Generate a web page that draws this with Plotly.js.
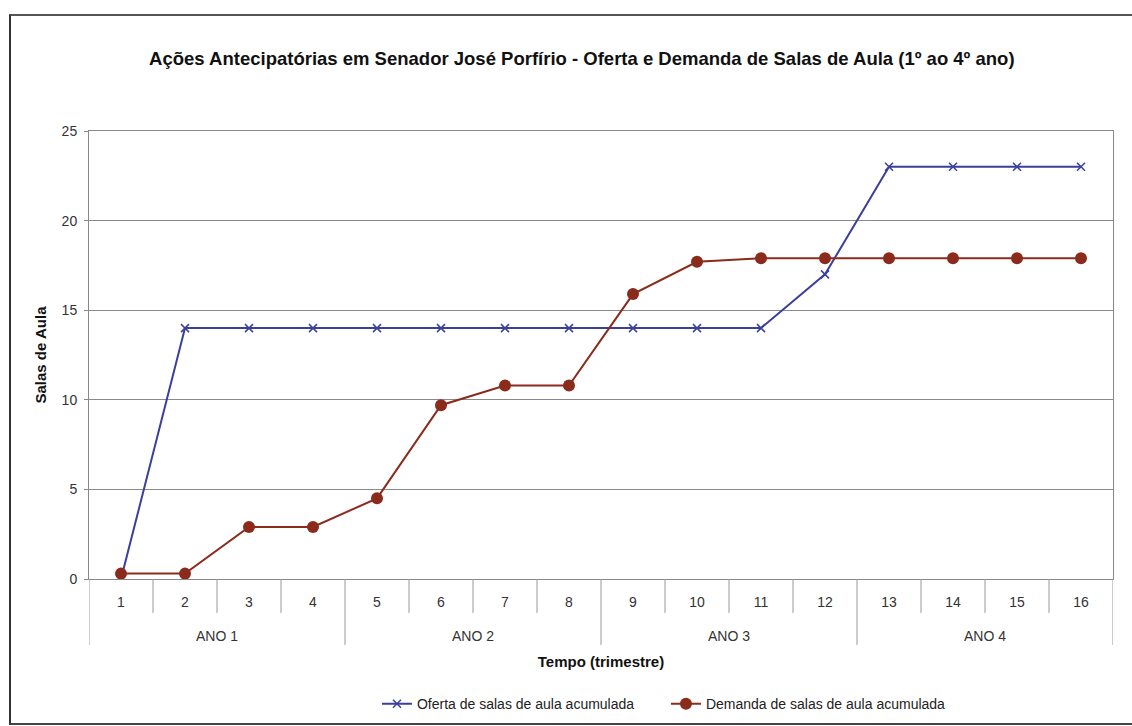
<!DOCTYPE html>
<html>
<head>
<meta charset="utf-8">
<script src="https://cdn.plot.ly/plotly-3.0.1.min.js"></script>
<style>
  html, body { margin: 0; padding: 0; background: #ffffff; }
  #frame { position: absolute; left: 9px; top: 14px; width: 1140px; height: 707px;
           border-left: 2px solid #333; border-top: 2px solid #555; border-bottom: 2px solid #444; }
  #chart { position: absolute; left: 0; top: 0; width: 1132px; height: 726px; }
</style>
</head>
<body>
<div id="frame"></div>
<div id="chart"></div>
<script>
const quarters = ['1','2','3','4','5','6','7','8','9','10','11','12','13','14','15','16'];
const years = ['ANO 1','ANO 1','ANO 1','ANO 1','ANO 2','ANO 2','ANO 2','ANO 2',
               'ANO 3','ANO 3','ANO 3','ANO 3','ANO 4','ANO 4','ANO 4','ANO 4'];
const oferta = [0, 14, 14, 14, 14, 14, 14, 14, 14, 14, 14, 17, 23, 23, 23, 23];
const demanda = [0.3, 0.3, 2.9, 2.9, 4.5, 9.7, 10.8, 10.8, 15.9, 17.7, 17.9, 17.9, 17.9, 17.9, 17.9, 17.9];
const seriesNames = ['Oferta de salas de aula acumulada', 'Demanda de salas de aula acumulada'];

const font = 'Arial, "Liberation Sans", sans-serif';
const blue = '#3a3f9c';
const red = '#8a2b1c';

const traces = [
  {
    x: quarters, y: oferta, name: seriesNames[0], type: 'scatter', mode: 'lines+markers',
    line: { color: blue, width: 2 },
    marker: { symbol: 'x-thin-open', size: 8, line: { color: blue, width: 1.5 } }
  },
  {
    x: quarters, y: demanda, name: seriesNames[1], type: 'scatter', mode: 'lines+markers',
    line: { color: red, width: 2 },
    marker: { symbol: 'circle', size: 12, color: red }
  }
];

// Category separators and year-group labels, derived from the arrays
const shapes = [];
const annotations = [];
const plotH = 726 - 131 - 147;
for (let k = 0; k <= quarters.length; k++) {
  const yearBoundary = (k === 0 || k === quarters.length || years[k] !== years[k - 1]);
  const depth = yearBoundary ? 66 : 34;
  shapes.push({
    type: 'line', xref: 'x', yref: 'paper', x0: k - 0.5, x1: k - 0.5,
    y0: 0, y1: -depth / plotH, line: { color: '#999', width: 1 }
  });
}
const uniqueYears = [...new Set(years)];
uniqueYears.forEach(yr => {
  const idx = years.map((v, i) => v === yr ? i : -1).filter(i => i >= 0);
  const mid = idx.reduce((a, b) => a + b, 0) / idx.length;
  annotations.push({
    text: yr, xref: 'x', yref: 'paper', x: mid, y: -57 / plotH,
    xanchor: 'center', yanchor: 'middle', showarrow: false,
    font: { family: font, size: 14, color: '#333' }
  });
});

const layout = {
  width: 1132, height: 726,
  paper_bgcolor: 'rgba(0,0,0,0)', plot_bgcolor: '#ffffff',
  margin: { l: 89, r: 19, t: 131, b: 147 },
  font: { family: font, color: '#222', size: 14 },
  title: {
    text: '<b>Ações Antecipatórias em Senador José Porfírio - Oferta e Demanda de Salas de Aula (1º ao 4º ano)</b>',
    font: { family: font, size: 18.5, color: '#111' },
    x: 0.514, xanchor: 'center', y: 0.92, yanchor: 'middle'
  },
  xaxis: {
    type: 'category', categoryarray: quarters, range: [-0.5, quarters.length - 0.5],
    automargin: false,
    showline: true, linecolor: '#888', linewidth: 1, mirror: true,
    ticks: '', ticklabelstandoff: 10,
    tickfont: { family: font, size: 14, color: '#333' },
    showgrid: false,
    title: { text: '<b>Tempo (trimestre)</b>', font: { family: font, size: 15, color: '#111' }, standoff: 47 }
  },
  yaxis: {
    range: [0, 25], dtick: 5, tick0: 0, automargin: false,
    showline: true, linecolor: '#888', linewidth: 1, mirror: true,
    ticks: 'outside', ticklen: 4, tickcolor: '#888', ticklabelstandoff: 4,
    showgrid: true, gridcolor: '#8a8a8a', gridwidth: 1,
    zeroline: false,
    tickfont: { family: font, size: 14, color: '#333' },
    title: { text: '<b>Salas de Aula</b>', font: { family: font, size: 15, color: '#111' }, standoff: 11 }
  },
  shapes: shapes,
  annotations: annotations,
  showlegend: true,
  legend: {
    orientation: 'h', xref: 'container', yref: 'container',
    x: 0.333, xanchor: 'left', y: 0.03, yanchor: 'middle',
    entrywidth: 244, entrywidthmode: 'pixels',
    font: { family: font, size: 14, color: '#222' },
    bgcolor: 'rgba(0,0,0,0)'
  }
};

Plotly.newPlot('chart', traces, layout, { displayModeBar: false, staticPlot: true });
</script>
</body>
</html>
